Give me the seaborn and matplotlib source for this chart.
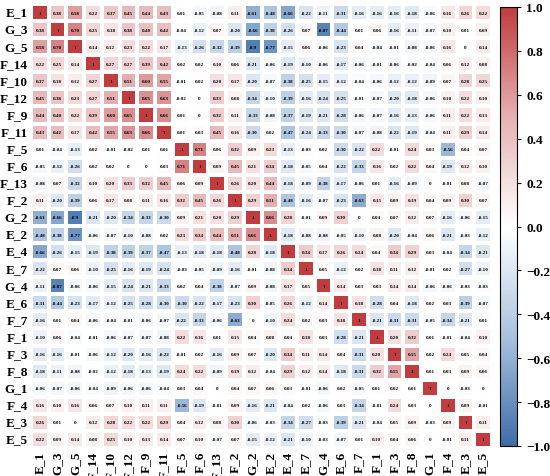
import numpy as np
import pandas as pd
import seaborn as sns
import matplotlib.pyplot as plt
from matplotlib.colors import LinearSegmentedColormap

labels = ['E_1', 'G_3', 'G_5', 'F_14', 'F_10', 'F_12', 'F_9', 'F_11', 'F_5', 'F_6',
          'F_13', 'F_2', 'G_2', 'E_2', 'E_4', 'E_7', 'G_4', 'E_6', 'F_7', 'F_1',
          'F_3', 'F_8', 'G_1', 'F_4', 'E_3', 'E_5']

corr_rows = [
    [1, 0.38, 0.58, 0.22, 0.37, 0.45, 0.44, 0.43, 0.01, -0.05, -0.08, 0.11, -0.61, -0.48, -0.66, -0.22, -0.11, -0.31, -0.16, -0.16, -0.16, -0.18, -0.06, 0.16, 0.26, 0.22],
    [0.38, 1, 0.70, 0.25, 0.18, 0.38, 0.40, 0.42, -0.04, -0.12, 0.07, -0.20, -0.66, -0.38, -0.26, 0.07, -0.87, -0.44, 0.01, 0.06, -0.16, -0.11, -0.07, 0.10, 0.01, 0.09],
    [0.58, 0.70, 1, 0.14, 0.12, 0.23, 0.22, 0.17, -0.13, -0.26, -0.32, -0.39, -0.9, -0.77, -0.15, 0.06, -0.06, -0.23, 0.04, -0.04, -0.01, -0.08, -0.06, 0.16, 0, 0.14],
    [0.22, 0.25, 0.14, 1, 0.27, 0.27, 0.39, 0.42, 0.02, 0.02, 0.10, 0.06, -0.21, -0.06, -0.19, -0.10, -0.06, -0.17, -0.06, -0.01, -0.06, -0.02, -0.04, 0.06, 0.12, 0.08],
    [0.37, 0.18, 0.12, 0.27, 1, 0.51, 0.60, 0.55, -0.01, 0.02, 0.20, 0.17, -0.20, -0.07, -0.38, -0.25, -0.15, -0.12, -0.04, -0.06, -0.12, -0.12, -0.09, 0.07, 0.28, 0.25],
    [0.45, 0.38, 0.23, 0.27, 0.51, 1, 0.65, 0.63, -0.02, 0, 0.33, 0.08, -0.34, -0.10, -0.39, -0.16, -0.24, -0.25, -0.01, -0.07, -0.20, -0.18, -0.06, 0.10, 0.22, 0.10],
    [0.44, 0.40, 0.22, 0.39, 0.60, 0.65, 1, 0.66, 0.01, 0, 0.32, 0.11, -0.33, -0.08, -0.37, -0.19, -0.21, -0.28, -0.06, -0.07, -0.16, -0.13, -0.06, 0.11, 0.22, 0.13],
    [0.43, 0.42, 0.17, 0.42, 0.55, 0.63, 0.66, 1, 0.01, 0.03, 0.45, 0.16, -0.30, 0.02, -0.47, -0.24, -0.33, -0.30, -0.07, -0.08, -0.22, -0.19, -0.04, 0.11, 0.29, 0.14],
    [0.01, -0.04, -0.13, 0.02, -0.01, -0.02, 0.01, 0.01, 1, 0.71, 0.06, 0.32, 0.09, 0.23, -0.13, -0.03, 0.02, -0.30, -0.22, 0.22, -0.01, 0.24, 0.03, -0.56, 0.04, 0.07],
    [-0.05, -0.12, -0.26, 0.02, 0.02, 0, 0, 0.03, 0.71, 1, 0.09, 0.45, 0.21, 0.34, -0.18, -0.05, 0.04, -0.22, -0.33, 0.16, 0.02, 0.22, 0.04, -0.19, 0.12, 0.10],
    [-0.08, 0.07, -0.32, 0.10, 0.20, 0.33, 0.32, 0.45, 0.06, 0.09, 1, 0.26, 0.20, 0.44, -0.18, -0.09, -0.38, -0.17, -0.06, 0.01, -0.16, -0.09, 0, -0.01, 0.08, -0.07],
    [0.11, -0.20, -0.39, 0.06, 0.17, 0.08, 0.11, 0.16, 0.32, 0.45, 0.26, 1, 0.29, 0.51, -0.48, -0.16, -0.07, -0.23, -0.63, 0.15, 0.09, 0.19, 0.04, 0.09, 0.30, 0.07],
    [-0.61, -0.66, -0.9, -0.21, -0.20, -0.34, -0.33, -0.30, 0.09, 0.21, 0.20, 0.29, 1, 0.66, 0.28, -0.01, 0.09, 0.30, 0, 0.04, 0.07, 0.12, 0.07, -0.16, -0.06, -0.15],
    [-0.48, -0.38, -0.77, -0.06, -0.07, -0.10, -0.08, 0.02, 0.23, 0.34, 0.44, 0.51, 0.66, 1, -0.18, -0.08, -0.08, -0.05, -0.10, 0.08, -0.20, -0.04, 0.06, -0.21, -0.03, -0.12],
    [-0.66, -0.26, -0.15, -0.19, -0.38, -0.39, -0.37, -0.47, -0.13, -0.18, -0.18, -0.48, 0.28, -0.18, 1, 0.34, 0.17, 0.26, 0.24, 0.04, 0.34, 0.29, 0.03, -0.04, -0.34, -0.21],
    [-0.22, 0.07, 0.06, -0.10, -0.25, -0.16, -0.19, -0.24, -0.03, -0.05, -0.09, -0.16, -0.01, -0.08, 0.34, 1, 0.05, -0.12, 0.02, 0.18, 0.11, 0.12, -0.01, 0.02, -0.27, -0.10],
    [-0.11, -0.87, -0.06, -0.06, -0.15, -0.24, -0.21, -0.33, 0.02, 0.04, -0.38, -0.07, 0.09, -0.08, 0.17, 0.05, 1, 0.14, 0.03, 0.03, 0.14, 0.14, -0.06, -0.06, -0.03, -0.03],
    [-0.31, -0.44, -0.23, -0.17, -0.12, -0.25, -0.28, -0.30, -0.30, -0.22, -0.17, -0.23, 0.30, -0.05, 0.26, -0.12, 0.14, 1, 0.18, -0.28, 0.04, -0.18, 0.02, 0.03, -0.39, -0.07],
    [-0.16, 0.01, 0.04, -0.06, -0.04, -0.01, -0.06, -0.07, -0.22, -0.33, -0.06, -0.63, 0, -0.10, 0.24, 0.02, 0.03, 0.18, 1, -0.21, -0.31, -0.31, -0.05, -0.34, -0.21, 0.01],
    [-0.10, 0.06, -0.04, -0.01, -0.06, -0.07, -0.07, -0.08, 0.22, 0.16, 0.01, 0.15, 0.04, 0.08, 0.04, 0.18, 0.03, -0.28, -0.21, 1, 0.20, 0.32, 0.01, -0.01, -0.04, 0.10],
    [-0.16, -0.16, -0.01, -0.06, -0.12, -0.20, -0.16, -0.22, -0.01, 0.02, -0.16, 0.09, 0.07, -0.20, 0.34, 0.11, 0.14, 0.04, -0.31, 0.20, 1, 0.55, 0.02, 0.24, 0.05, 0.04],
    [-0.18, -0.11, -0.08, -0.02, -0.12, -0.18, -0.13, -0.19, 0.24, 0.22, -0.09, 0.19, 0.12, -0.04, 0.29, 0.12, 0.14, -0.18, -0.31, 0.32, 0.55, 1, 0.01, 0.03, 0.09, 0.06],
    [-0.06, -0.07, -0.06, -0.04, -0.09, -0.06, -0.06, -0.04, 0.03, 0.04, 0, 0.04, 0.07, 0.06, 0.03, -0.01, -0.06, 0.02, -0.05, 0.01, 0.02, 0.01, 1, 0, -0.03, 0],
    [0.16, 0.10, 0.16, 0.06, 0.07, 0.10, 0.11, 0.11, -0.56, -0.19, -0.01, 0.09, -0.16, -0.21, -0.04, 0.02, -0.06, 0.03, -0.34, -0.01, 0.24, 0.03, 0, 1, 0.09, -0.01],
    [0.26, 0.01, 0, 0.12, 0.28, 0.22, 0.22, 0.29, 0.04, 0.12, 0.08, 0.30, -0.06, -0.03, -0.34, -0.27, -0.03, -0.39, -0.21, -0.04, 0.05, 0.09, -0.03, 0.09, 1, 0.11],
    [0.22, 0.09, 0.14, 0.08, 0.25, 0.10, 0.13, 0.14, 0.07, 0.10, -0.07, 0.07, -0.15, -0.12, -0.21, -0.10, -0.03, -0.07, 0.01, 0.10, 0.04, 0.06, 0, -0.01, 0.11, 1],
]

corr = pd.DataFrame(corr_rows, index=labels, columns=labels)


def fmt_cell(v):
    if v == 1:
        return '1'
    if v == 0:
        return '0'
    if abs(abs(v) - 0.9) < 1e-9:
        return f'{v:.1f}'
    return f'{v:.2f}'


annot = corr.map(fmt_cell)

cmap = LinearSegmentedColormap.from_list(
    'bwr_soft', ['#3d6ea9', '#a9c2de', '#ffffff', '#e6b1b3', '#c13c3e'])

plt.rcParams['font.family'] = 'serif'
plt.rcParams['font.serif'] = ['Liberation Serif', 'DejaVu Serif']
plt.rcParams['font.weight'] = 'bold'

fig = plt.figure(figsize=(5.5, 4.77), dpi=100)
ax = fig.add_axes([31 / 550, 28 / 477, 461 / 550, 444 / 477])
cax = fig.add_axes([500 / 550, 30 / 477, 17 / 550, 439 / 477])

sns.heatmap(corr, ax=ax, cbar_ax=cax, cmap=cmap, vmin=-1, vmax=1,
            annot=annot, fmt='', linewidths=2.8, linecolor='white',
            annot_kws={'fontsize': 3.7, 'fontweight': 'bold', 'color': 'black'})

ax.tick_params(length=0, pad=2)
ax.set_xticklabels(labels, rotation=90, fontsize=9.5, fontweight='bold')
ax.set_yticklabels(labels, rotation=0, fontsize=9.5, fontweight='bold')

cb = ax.collections[0].colorbar
cb.set_ticks([1, 0.8, 0.6, 0.4, 0.2, 0, -0.2, -0.4, -0.6, -0.8, -1])
cb.ax.tick_params(labelsize=9.5, length=3, width=0.8)
for t in cb.ax.get_yticklabels():
    t.set_fontweight('bold')
cb.outline.set_visible(True)
cb.outline.set_edgecolor('black')
cb.outline.set_linewidth(0.8)

fig.savefig('out.png', dpi=100)
